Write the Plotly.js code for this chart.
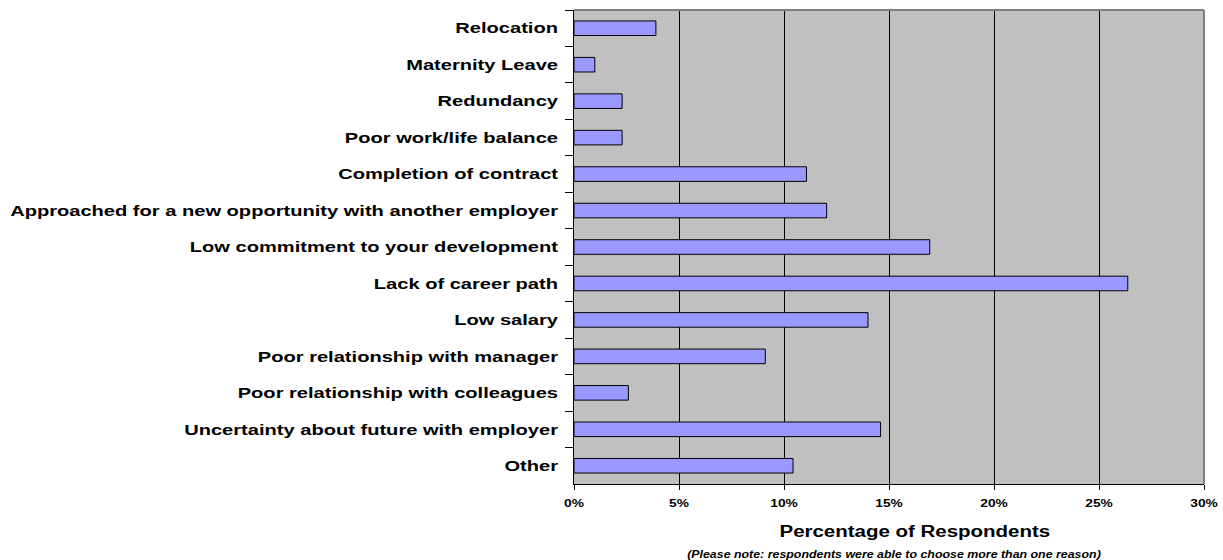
<!DOCTYPE html>
<html>
<head>
<meta charset="utf-8">
<script src="https://cdn.plot.ly/plotly-3.0.1.min.js"></script>
<style>
html,body{margin:0;padding:0;background:#fff}
#chart{width:1223px;height:560px}
#chart g.annotation.title-ann text{transform-box:fill-box;transform-origin:center center;transform:scaleX(1.28)}
#chart g.annotation.note-ann text{transform-box:fill-box;transform-origin:center center;transform:scaleX(1.24)}
</style>
</head>
<body>
<div id="chart"></div>
<script>
// Categories, top to bottom
const categories = [
  "Relocation",
  "Maternity Leave",
  "Redundancy",
  "Poor work/life balance",
  "Completion of contract",
  "Approached for a new opportunity with another employer",
  "Low commitment to your development",
  "Lack of career path",
  "Low salary",
  "Poor relationship with manager",
  "Poor relationship with colleagues",
  "Uncertainty about future with employer",
  "Other"
];
// Percentage of respondents (fraction)
const values = [0.039, 0.0099, 0.0229, 0.0229, 0.1107, 0.1203, 0.1694, 0.2637, 0.140, 0.0911, 0.0259, 0.146, 0.1043];
const xTickVals = [0, 0.05, 0.10, 0.15, 0.20, 0.25, 0.30];
const xTickText = ["0%", "5%", "10%", "15%", "20%", "25%", "30%"];
const xTitle = "Percentage of Respondents";
const note = "(Please note: respondents were able to choose more than one reason)";

const FONT = "Liberation Sans, Arial, sans-serif";

const trace = {
  type: "bar",
  orientation: "h",
  y: categories,
  x: values,
  width: 0.4,
  marker: {color: "#9999FF", line: {color: "#000000", width: 1}},
  hoverinfo: "x+y"
};

const layout = {
  width: 1223, height: 560,
  margin: {l: 574, r: 19, t: 10, b: 76, pad: 0},
  paper_bgcolor: "#ffffff",
  plot_bgcolor: "#C0C0C0",
  showlegend: false,
  bargap: 0.6,
  xaxis: {
    range: [0, 0.30],
    tickvals: xTickVals,
    ticktext: xTickText,
    showgrid: true, gridcolor: "#000000", gridwidth: 1,
    zeroline: false,
    showline: true, linecolor: "#000000", linewidth: 1,
    ticks: "outside", ticklen: 5, tickcolor: "#000000", tickwidth: 1,
    ticklabelstandoff: 4,
    tickfont: {family: FONT, size: 11, color: "#000000", weight: "bold"},
    fixedrange: true
  },
  yaxis: {
    type: "category",
    autorange: "reversed",
    tickson: "boundaries",
    showgrid: false,
    zeroline: false,
    showline: true, linecolor: "#000000", linewidth: 1,
    ticks: "outside", ticklen: 8, tickcolor: "#000000", tickwidth: 1,
    ticklabelstandoff: 12,
    tickfont: {family: FONT, size: 15, color: "#000000", weight: "bold"},
    fixedrange: true
  },
  shapes: [
    {type: "line", xref: "paper", yref: "paper", x0: 0, x1: 1, y0: 1, y1: 1, line: {color: "#808080", width: 2}},
    {type: "line", xref: "paper", yref: "paper", x0: 1, x1: 1, y0: 0, y1: 1, line: {color: "#808080", width: 2}}
  ],
  annotations: [
    {xref: "paper", yref: "paper", x: 0.541, y: 0, yshift: -47, xanchor: "center", yanchor: "middle",
     text: xTitle, showarrow: false, font: {family: FONT, size: 16, color: "#000000", weight: "bold"}},
    {xref: "paper", yref: "paper", x: 0.508, y: 0, yshift: -70, xanchor: "center", yanchor: "middle",
     text: note, showarrow: false, font: {family: FONT, size: 10, color: "#000000", weight: "bold", style: "italic"}}
  ]
};

function stretch(nodes, s) {
  nodes.forEach(function (t) {
    const x = parseFloat(t.getAttribute("x")) || 0;
    const tr = t.getAttribute("transform") || "";
    t.setAttribute("transform", tr + " translate(" + x + ",0) scale(" + s + ",1) translate(" + (-x) + ",0)");
  });
}

Plotly.newPlot("chart", [trace], layout, {displayModeBar: false, staticPlot: true}).then(function (gd) {
  const anns = gd.querySelectorAll("g.annotation");
  if (anns[0]) anns[0].classList.add("title-ann");
  if (anns[1]) anns[1].classList.add("note-ann");
  stretch(gd.querySelectorAll("g.ytick text"), 1.34);
  stretch(gd.querySelectorAll("g.xtick text"), 1.25);
});
</script>
</body>
</html>
